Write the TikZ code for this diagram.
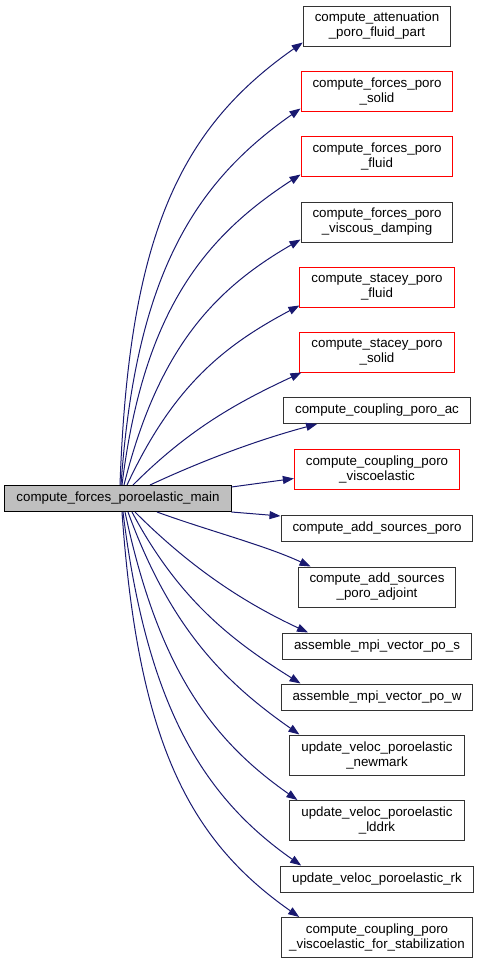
\documentclass[tikz,border=0pt]{standalone}
\usepackage{fontspec}
\setmainfont{Liberation Sans}
\usetikzlibrary{arrows.meta}

\definecolor{edgeblue}{HTML}{191970}
\definecolor{boxred}{HTML}{FF0000}
\definecolor{boxgray}{HTML}{BFBFBF}

\tikzset{
  fnbox/.style={draw=black!80, line width=1pt, inner xsep=11.5pt, inner ysep=0pt,
    minimum height=26pt, align=center, font=\fontsize{13.33}{15}\selectfont},
  twoline/.style={minimum height=40pt},
  redbox/.style={draw=boxred},
  call/.style={draw=edgeblue, line width=1pt, -{Triangle[length=11pt,width=8pt]}},
}

\begin{document}
\begin{tikzpicture}[x=1pt, y=-1pt]
  \useasboundingbox (0,0) rectangle (481,964);

  % Caller
  \node[fnbox, fill=boxgray, draw=black] (main) at (118,498.5) {compute\_forces\_poroelastic\_main};

  % Callees
  \node[fnbox, twoline] (atten) at (377,26) {compute\_attenuation\\\_poro\_fluid\_part};
  \node[fnbox, twoline, redbox] (solid) at (377,91) {compute\_forces\_poro\\\_solid};
  \node[fnbox, twoline, redbox] (fluid) at (377,156) {compute\_forces\_poro\\\_fluid};
  \node[fnbox, twoline] (damping) at (377,222) {compute\_forces\_poro\\\_viscous\_damping};
  \node[fnbox, twoline, redbox] (staceyf) at (377,287) {compute\_stacey\_poro\\\_fluid};
  \node[fnbox, twoline, redbox] (staceys) at (377,352) {compute\_stacey\_poro\\\_solid};
  \node[fnbox] (coupac) at (377,410.5) {compute\_coupling\_poro\_ac};
  \node[fnbox, twoline, redbox] (coupve) at (377,469.5) {compute\_coupling\_poro\\\_viscoelastic};
  \node[fnbox] (sources) at (377,528.5) {compute\_add\_sources\_poro};
  \node[fnbox, twoline] (adjoint) at (377,587) {compute\_add\_sources\\\_poro\_adjoint};
  \node[fnbox] (mpis) at (377,646) {assemble\_mpi\_vector\_po\_s};
  \node[fnbox] (mpiw) at (377,697) {assemble\_mpi\_vector\_po\_w};
  \node[fnbox, twoline] (newmark) at (377,755) {update\_veloc\_poroelastic\\\_newmark};
  \node[fnbox, twoline] (lddrk) at (377,820.5) {update\_veloc\_poroelastic\\\_lddrk};
  \node[fnbox] (rk) at (377,879) {update\_veloc\_poroelastic\_rk};
  \node[fnbox, twoline, inner xsep=7.5pt] (stab) at (377,937.5) {compute\_coupling\_poro\\\_viscoelastic\_for\_stabilization};

  % Calls going up
  \draw[call] ([xshift=2pt]main.north) .. controls +(88:250pt) and +(215:150pt) .. ([yshift=4pt]atten.south west);
  \draw[call] ([xshift=3pt]main.north) .. controls +(86:210pt) and +(215:130pt) .. ([yshift=3pt]solid.south west);
  \draw[call] ([xshift=4pt]main.north) .. controls +(83:175pt) and +(213:115pt) .. ([yshift=2pt]fluid.south west);
  \draw[call] ([xshift=6pt]main.north) .. controls +(76:140pt) and +(210:100pt) .. ([yshift=3pt]damping.south west);
  \draw[call] ([xshift=9pt]main.north) .. controls +(65:110pt) and +(208:85pt) .. ([yshift=2pt]staceyf.south west);
  \draw[call] ([xshift=15pt]main.north) .. controls +(45:80pt) and +(205:70pt) .. ([xshift=2pt]staceys.south west);
  \draw[call] ([xshift=32pt]main.north) .. controls +(25:60pt) and +(195:60pt) .. ([xshift=34pt]coupac.south west);
  \draw[call] ([yshift=-2pt]main.north east) -- ([yshift=-9pt]coupve.west);

  % Calls going down
  \draw[call] (main.south east) -- ([yshift=-1pt]sources.north west);
  \draw[call] ([xshift=39pt]main.south) .. controls +(-20:55pt) and +(155:50pt) .. ([xshift=13pt]adjoint.north west);
  \draw[call] ([xshift=17pt]main.south) .. controls +(-45:80pt) and +(155:70pt) .. ([xshift=26pt]mpis.north west);
  \draw[call] ([xshift=14pt]main.south) .. controls +(-62:100pt) and +(148:80pt) .. ([xshift=20pt]mpiw.north west);
  \draw[call] ([xshift=10pt]main.south) .. controls +(-70:125pt) and +(145:90pt) .. ([xshift=10pt]newmark.north west);
  \draw[call] ([xshift=7pt]main.south) .. controls +(-78:160pt) and +(145:105pt) .. ([xshift=8pt]lddrk.north west);
  \draw[call] ([xshift=5pt]main.south) .. controls +(-83:195pt) and +(145:120pt) .. ([xshift=21pt]rk.north west);
  \draw[call] ([xshift=4pt]main.south) .. controls +(-86:230pt) and +(145:135pt) .. ([xshift=18pt]stab.north west);
\end{tikzpicture}
\end{document}
